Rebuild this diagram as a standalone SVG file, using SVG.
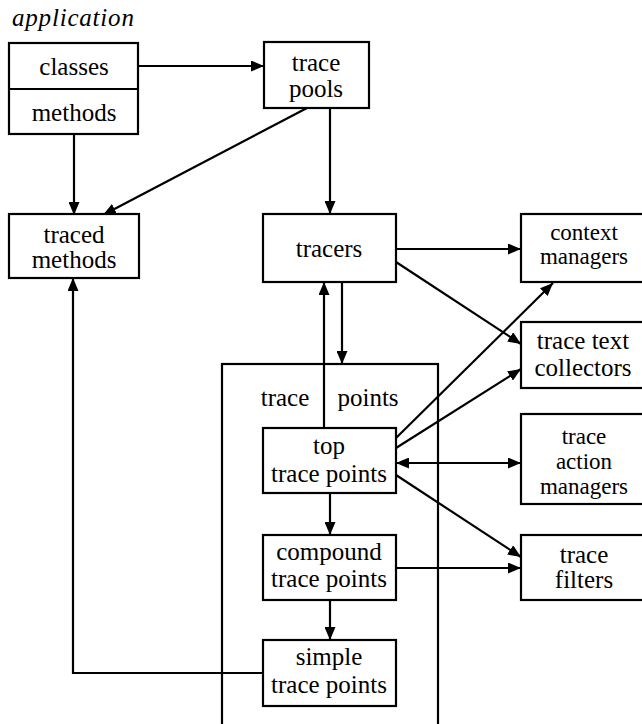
<svg xmlns="http://www.w3.org/2000/svg" width="642" height="724" viewBox="0 0 642 724">
<style>
.box{fill:#fff;stroke:#000;stroke-width:2.2}
.frame{fill:none;stroke:#000;stroke-width:2.2}
.t{font-family:'Liberation Serif',serif;font-size:25px;fill:#000;text-anchor:middle}
.sm{font-size:23px}
.it{font-family:'Liberation Serif',serif;font-size:25px;font-style:italic;fill:#000;letter-spacing:0.8px}
.c{fill:none;stroke:#000;stroke-width:2.2}
</style>
<defs>
<marker id="ah" markerUnits="userSpaceOnUse" markerWidth="13" markerHeight="11" refX="13" refY="5.5" orient="auto-start-reverse">
<path d="M0,0 L13,5.5 L0,11 z" fill="#000"/>
</marker>
</defs>
<rect width="642" height="724" fill="#fff"/>
<text class="it" x="12" y="26">application</text>
<g id="frame-trace-points">
<rect class="frame" x="222" y="364" width="216" height="380"/>
<text class="t" x="285" y="406">trace</text>
<text class="t" x="368" y="406">points</text>
</g>
<g id="connectors">
<path class="c" d="M138,66 H264" marker-end="url(#ah)"/>
<path class="c" d="M74,134 V215" marker-end="url(#ah)"/>
<path class="c" d="M307,108 L103,215" marker-end="url(#ah)"/>
<path class="c" d="M330,108 V214" marker-end="url(#ah)"/>
<path class="c" d="M324,428 V282" marker-end="url(#ah)"/>
<path class="c" d="M342,282 V364" marker-end="url(#ah)"/>
<path class="c" d="M396,249 H521" marker-end="url(#ah)"/>
<path class="c" d="M396,262 L521,344" marker-end="url(#ah)"/>
<path class="c" d="M396,438 L553,283" marker-end="url(#ah)"/>
<path class="c" d="M396,448 L521,369" marker-end="url(#ah)"/>
<path class="c" d="M396,463 H521" marker-start="url(#ah)" marker-end="url(#ah)"/>
<path class="c" d="M396,475 L521,557" marker-end="url(#ah)"/>
<path class="c" d="M396,568 H521" marker-end="url(#ah)"/>
<path class="c" d="M330,493 V535" marker-end="url(#ah)"/>
<path class="c" d="M330,600 V640" marker-end="url(#ah)"/>
<path class="c" d="M263,673 H73 V278" marker-end="url(#ah)"/>
</g>
<g id="application">
<rect class="box" x="9" y="43" width="129" height="91"/>
<line x1="9" y1="89" x2="138" y2="89" stroke="#000" stroke-width="2.2"/>
<text class="t" x="74" y="75">classes</text>
<text class="t" x="74" y="121">methods</text>
</g>
<g id="trace-pools">
<rect class="box" x="264" y="42" width="105" height="66"/>
<text class="t" x="316" y="71">trace</text>
<text class="t" x="316" y="97">pools</text>
</g>
<g id="traced-methods">
<rect class="box" x="9" y="214" width="130" height="64"/>
<text class="t" x="74" y="243">traced</text>
<text class="t" x="74" y="268">methods</text>
</g>
<g id="tracers">
<rect class="box" x="263" y="214" width="133" height="68"/>
<text class="t" x="329" y="257">tracers</text>
</g>
<g id="context-managers">
<rect class="box" x="521" y="214" width="130" height="68"/>
<text class="t sm" x="584" y="240">context</text>
<text class="t sm" x="584" y="264">managers</text>
</g>
<g id="trace-text-collectors">
<rect class="box" x="521" y="322" width="130" height="66"/>
<text class="t" x="583" y="349">trace text</text>
<text class="t" x="583" y="376">collectors</text>
</g>
<g id="top-trace-points">
<rect class="box" x="263" y="428" width="133" height="65"/>
<text class="t" x="329" y="454">top</text>
<text class="t" x="329" y="482">trace points</text>
</g>
<g id="trace-action-managers">
<rect class="box" x="521" y="414" width="130" height="90"/>
<text class="t sm" x="584" y="444">trace</text>
<text class="t sm" x="584" y="469">action</text>
<text class="t sm" x="584" y="494">managers</text>
</g>
<g id="compound-trace-points">
<rect class="box" x="263" y="535" width="133" height="65"/>
<text class="t" x="329" y="560">compound</text>
<text class="t" x="329" y="587">trace points</text>
</g>
<g id="trace-filters">
<rect class="box" x="521" y="535" width="130" height="65"/>
<text class="t" x="584" y="563">trace</text>
<text class="t" x="584" y="588">filters</text>
</g>
<g id="simple-trace-points">
<rect class="box" x="263" y="640" width="133" height="66"/>
<text class="t" x="329" y="665">simple</text>
<text class="t" x="329" y="693">trace points</text>
</g>
</svg>
